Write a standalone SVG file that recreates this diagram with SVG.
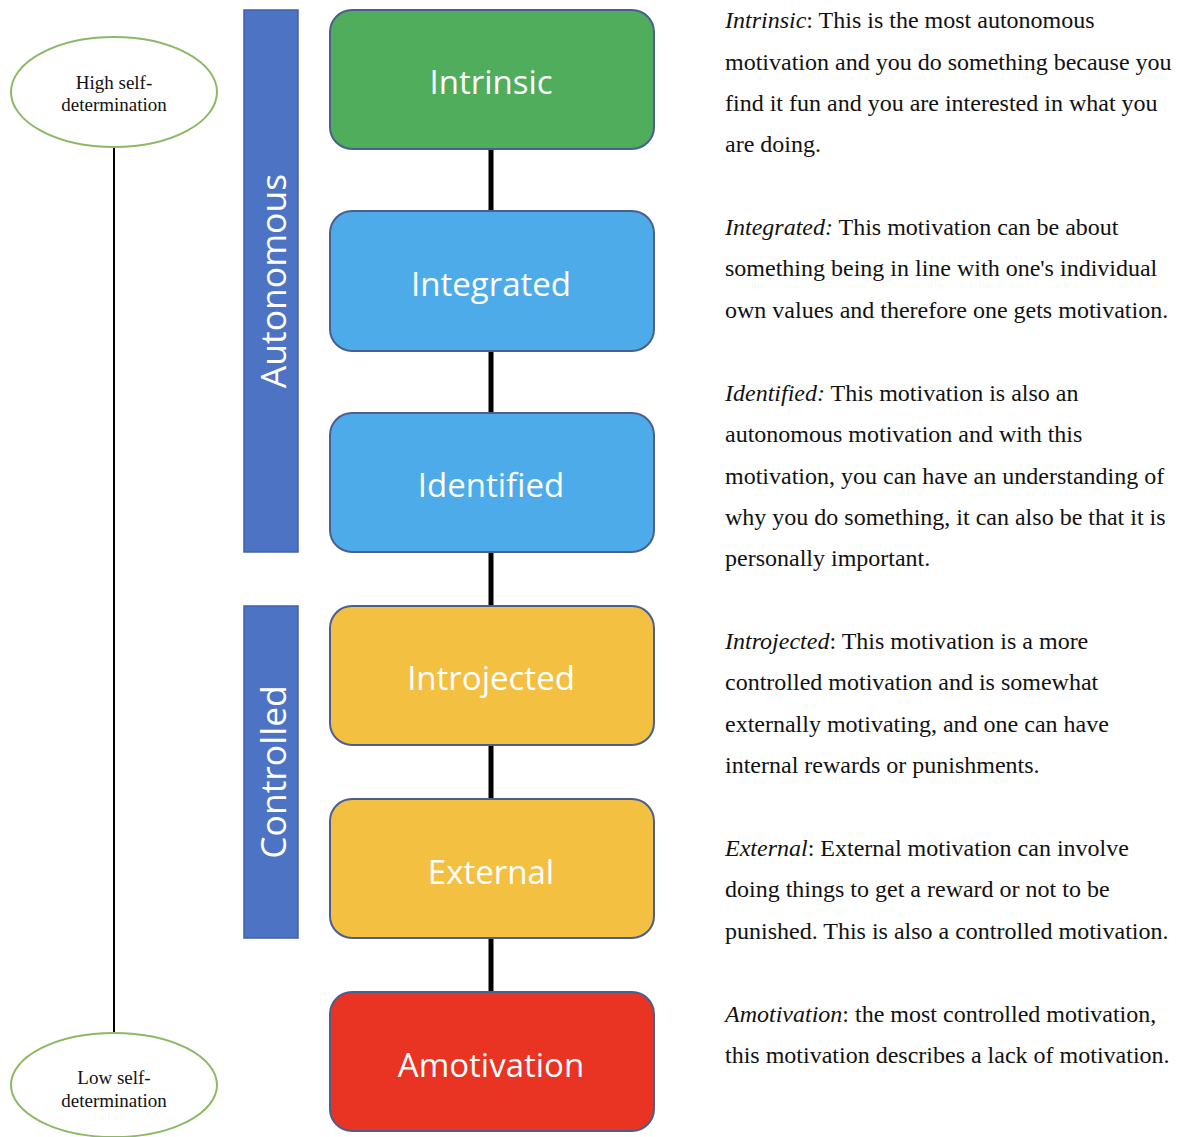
<svg xmlns="http://www.w3.org/2000/svg" width="1182" height="1137" viewBox="0 0 1182 1137">
<style>
.box{stroke:#4a5f8f;stroke-width:2}
.bar{fill:#4c73c4;stroke:#3f62ab;stroke-width:1.5}
.lbl{font-family:"Open Sans","Noto Sans",sans-serif;font-size:33px;fill:#ffffff;text-anchor:middle}
.bartxt{font-family:"Open Sans","Noto Sans",sans-serif;font-size:35.5px;fill:#ffffff;text-anchor:middle}
.ell{fill:#ffffff;stroke:#8db865;stroke-width:2}
.etxt{font-family:"Liberation Serif",serif;font-size:19px;fill:#111111;text-anchor:middle}
.desc{font-family:"Liberation Serif",serif;font-size:24px;fill:#111111}
.conn{stroke:#000000;stroke-width:5}
</style>
<rect width="1182" height="1137" fill="#ffffff"/>
<g id="connectors">
<line class="conn" x1="491" y1="149" x2="491" y2="211"/>
<line class="conn" x1="491" y1="351" x2="491" y2="413"/>
<line class="conn" x1="491" y1="552" x2="491" y2="606"/>
<line class="conn" x1="491" y1="745" x2="491" y2="799"/>
<line class="conn" x1="491" y1="938" x2="491" y2="992"/>
<line x1="114" y1="147" x2="114" y2="1033" stroke="#000" stroke-width="2"/>
</g>
<g id="bar-autonomous">
<rect class="bar" x="244" y="10" width="54" height="542"/>
<text class="bartxt" transform="translate(286,281) rotate(-90)">Autonomous</text>
</g>
<g id="bar-controlled">
<rect class="bar" x="244" y="606" width="54" height="332"/>
<text class="bartxt" transform="translate(286,772) rotate(-90)">Controlled</text>
</g>
<g id="node-intrinsic">
<rect class="box" x="330" y="10" width="324" height="139" rx="22" fill="#4fad5b"/>
<text class="lbl" x="491" y="94">Intrinsic</text>
</g>
<g id="node-integrated">
<rect class="box" x="330" y="211" width="324" height="140" rx="22" fill="#4eabe9"/>
<text class="lbl" x="491" y="296">Integrated</text>
</g>
<g id="node-identified">
<rect class="box" x="330" y="413" width="324" height="139" rx="22" fill="#4eabe9"/>
<text class="lbl" x="491" y="497">Identified</text>
</g>
<g id="node-introjected">
<rect class="box" x="330" y="606" width="324" height="139" rx="22" fill="#f4c042"/>
<text class="lbl" x="491" y="690">Introjected</text>
</g>
<g id="node-external">
<rect class="box" x="330" y="799" width="324" height="139" rx="22" fill="#f4c042"/>
<text class="lbl" x="491" y="884">External</text>
</g>
<g id="node-amotivation">
<rect class="box" x="330" y="992" width="324" height="139" rx="22" fill="#e93323"/>
<text class="lbl" x="491" y="1077">Amotivation</text>
</g>
<g id="node-high">
<ellipse class="ell" cx="114" cy="92" rx="103" ry="55"/>
<text class="etxt" x="114" y="89">High self-</text>
<text class="etxt" x="114" y="111">determination</text>
</g>
<g id="node-low">
<ellipse class="ell" cx="114" cy="1085" rx="103" ry="52"/>
<text class="etxt" x="114" y="1084">Low self-</text>
<text class="etxt" x="114" y="1107">determination</text>
</g>
<g id="descriptions">
<text class="desc" x="725" y="28"><tspan font-style="italic">Intrinsic</tspan>: This is the most autonomous</text>
<text class="desc" x="725" y="70">motivation and you do something because you</text>
<text class="desc" x="725" y="111">find it fun and you are interested in what you</text>
<text class="desc" x="725" y="152">are doing.</text>
<text class="desc" x="725" y="235"><tspan font-style="italic">Integrated:</tspan> This motivation can be about</text>
<text class="desc" x="725" y="276">something being in line with one's individual</text>
<text class="desc" x="725" y="318">own values and therefore one gets motivation.</text>
<text class="desc" x="725" y="401"><tspan font-style="italic">Identified:</tspan> This motivation is also an</text>
<text class="desc" x="725" y="442">autonomous motivation and with this</text>
<text class="desc" x="725" y="484">motivation, you can have an understanding of</text>
<text class="desc" x="725" y="525">why you do something, it can also be that it is</text>
<text class="desc" x="725" y="566">personally important.</text>
<text class="desc" x="725" y="649"><tspan font-style="italic">Introjected</tspan>: This motivation is a more</text>
<text class="desc" x="725" y="690">controlled motivation and is somewhat</text>
<text class="desc" x="725" y="732">externally motivating, and one can have</text>
<text class="desc" x="725" y="773">internal rewards or punishments.</text>
<text class="desc" x="725" y="856"><tspan font-style="italic">External</tspan>: External motivation can involve</text>
<text class="desc" x="725" y="897">doing things to get a reward or not to be</text>
<text class="desc" x="725" y="939">punished. This is also a controlled motivation.</text>
<text class="desc" x="725" y="1022"><tspan font-style="italic">Amotivation</tspan>: the most controlled motivation,</text>
<text class="desc" x="725" y="1063">this motivation describes a lack of motivation.</text>
</g>
</svg>
